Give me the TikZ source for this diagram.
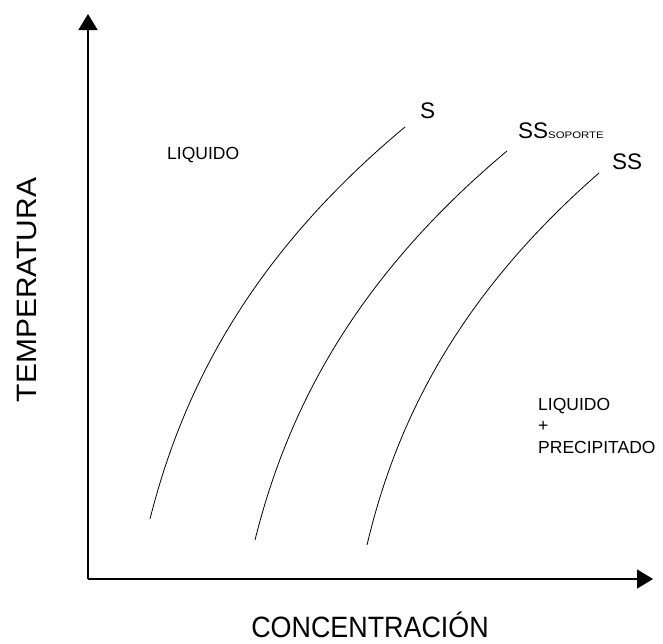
\documentclass[tikz,border=0pt]{standalone}
\usepackage{fontspec}
\setmainfont{Liberation Sans}
\usetikzlibrary{arrows.meta}

\begin{document}
\begin{tikzpicture}[
        x=1pt, y=-1pt,
        axis/.style={line width=1.4pt, -{Triangle[width=19pt,length=16pt]}},
        curve/.style={line width=0.8pt},
        axislabel/.style={font=\fontsize{28}{30}\selectfont, inner sep=0pt},
        curvelabel/.style={font=\fontsize{22.5}{24}\selectfont, inner sep=0pt, anchor=base west},
        region/.style={font=\fontsize{17.5}{21.5}\selectfont, inner sep=0pt, align=left, anchor=north west}
    ]
        \useasboundingbox (0,0) rectangle (663,643);

        % axes
        \coordinate (origin) at (88,579);
        \coordinate (ytop) at (88,14);
        \coordinate (xend) at (653,579);
        \draw[axis] (origin) -- (ytop);
        \draw[axis] (origin) -- (xend);

        \node[axislabel, rotate=90] (temp) at (27.5,290) {\scalebox{1.07}[1]{TEMPERATURA}};
        \node[axislabel, anchor=base] (conc) at (370,637) {\scalebox{0.96}[1.05]{CONCENTRACIÓN}};

        % solubility curves
        \coordinate (s0) at (150,519);
        \coordinate (s1) at (405,127);
        \draw[curve] (s0) .. controls (182.5,390) and (250,256) .. (s1);

        \coordinate (p0) at (255,540);
        \coordinate (p1) at (507,151);
        \draw[curve] (p0) .. controls (287,412) and (353,280) .. (p1);

        \coordinate (q0) at (367,545);
        \coordinate (q1) at (599,173);
        \draw[curve] (q0) .. controls (396,422) and (458,296) .. (q1);

        \node[curvelabel] (slab) at (420,118) {S};
        \node[curvelabel] (sslab) at (518,138) {SS\scalebox{1.2}[1]{\fontsize{9.5}{10}\selectfont SOPORTE}};
        \node[curvelabel] (ss) at (612,169) {SS};

        % regions
        \node[region] (liq) at (167,147) {LIQUIDO};
        \node[region] (liqp) at (538,398) {LIQUIDO\\+\\PRECIPITADO};
    \end{tikzpicture}
\end{document}
